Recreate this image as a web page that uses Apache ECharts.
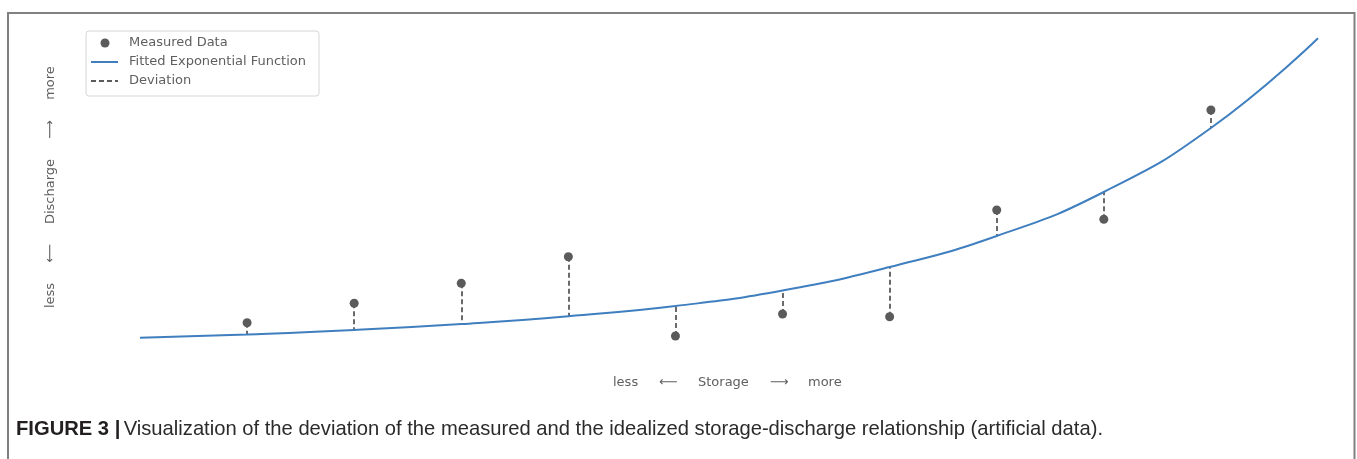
<!DOCTYPE html>
<html>
<head>
<meta charset="utf-8">
<title>Storage-discharge deviation</title>
<script src="https://cdn.jsdelivr.net/npm/echarts@6/dist/echarts.min.js"></script>
<style>
  html, body { margin: 0; padding: 0; background: #ffffff; }
  #chart { width: 1357px; height: 459px; }
</style>
</head>
<body>
<div id="chart"></div>
<script>
// Storage positions (arbitrary units) at which the fitted curve is sampled
const curveStorage = [0, 1, 2, 3, 4, 5, 6, 7, 8, 9, 10, 11];
// Fitted exponential storage-discharge relation (arbitrary discharge units)
const fittedDischarge = [12.3, 15.6, 20.0, 26.0, 33.8, 44.0, 59.5, 83.0, 114.0, 158.0, 222.0, 311.7];
// Storage positions of the measurements
const measuredStorage = [1, 2, 3, 4, 5, 6, 7, 8, 9, 10];
// Measured discharge values
const measuredDischarge = [27.3, 46.7, 66.7, 93.3, 14.0, 36.0, 33.3, 140.0, 130.7, 240.0];

// Legend entries
const legendLabels = ['Measured Data', 'Fitted Exponential Function', 'Deviation'];
// Axis label pieces (low end, arrow, quantity, arrow, high end)
const xLabelParts = ['less', '\u27F5', 'Storage', '\u27F6', 'more'];
const yLabelParts = ['less', '\u27F5', 'Discharge', '\u27F6', 'more'];
const captionLead = 'FIGURE 3 |';
const captionText = 'Visualization of the deviation of the measured and the idealized storage-discharge relationship (artificial data).';

const POINT_COLOR = '#5b5b5b';
const CURVE_COLOR = '#3f7fbf';
const DEV_COLOR = '#5b5b5b';
const LABEL_COLOR = '#5f5f5f';
const FONT = '"DejaVu Sans", sans-serif';
const CAPTION_FONT = '"Liberation Sans", Arial, sans-serif';

const curveData = curveStorage.map((s, i) => [s, fittedDischarge[i]]);
const pointData = measuredStorage.map((s, i) => [s, measuredDischarge[i]]);
const deviationData = measuredStorage.map((s, i) => ({
  coords: [[s, measuredDischarge[i]], [s, fittedDischarge[curveStorage.indexOf(s)]]]
}));

// Axis label pieces are laid out as individual text runs
const xLabelX = [613, 659, 698, 770, 808];
const yLabelY = [295.5, 253.5, 191.5, 129.5, 83];

const graphics = [];
// Figure frame
graphics.push({
  type: 'rect', silent: true, z: 1,
  shape: { x: 8, y: 13, width: 1346.5, height: 480 },
  style: { fill: null, stroke: '#808080', lineWidth: 2 }
});
xLabelParts.forEach((t, i) => {
  graphics.push({
    type: 'text', x: xLabelX[i], y: 383,
    style: { text: t, font: '13px ' + FONT, fill: LABEL_COLOR, align: 'left', verticalAlign: 'middle' }
  });
});
yLabelParts.forEach((t, i) => {
  graphics.push({
    type: 'text', x: 51, y: yLabelY[i], rotation: Math.PI / 2,
    style: { text: t, font: '13px ' + FONT, fill: LABEL_COLOR, align: 'center', verticalAlign: 'middle' }
  });
});
// Legend box
graphics.push({
  type: 'rect', z: 10,
  shape: { x: 86, y: 31, width: 233, height: 65, r: 3 },
  style: { fill: 'rgba(255,255,255,0.9)', stroke: '#d6d6d6', lineWidth: 1 }
});
graphics.push({
  type: 'circle', z: 11,
  shape: { cx: 105, cy: 43, r: 4.5 },
  style: { fill: POINT_COLOR }
});
graphics.push({
  type: 'line', z: 11,
  shape: { x1: 91, y1: 62, x2: 118, y2: 62 },
  style: { stroke: CURVE_COLOR, lineWidth: 2 }
});
graphics.push({
  type: 'line', z: 11,
  shape: { x1: 91, y1: 81, x2: 118, y2: 81 },
  style: { stroke: DEV_COLOR, lineWidth: 2, lineDash: [5, 3] }
});
legendLabels.forEach((t, i) => {
  graphics.push({
    type: 'text', z: 11, x: 129, y: 43 + i * 19,
    style: { text: t, font: '13px ' + FONT, fill: LABEL_COLOR, align: 'left', verticalAlign: 'middle' }
  });
});
// Caption
graphics.push({
  type: 'text', x: 16, y: 429,
  style: {
    text: '{b|' + captionLead + '} {n|' + captionText + '}',
    verticalAlign: 'middle', align: 'left',
    rich: {
      b: { font: 'bold 20.2px ' + CAPTION_FONT, fill: '#231f20' },
      n: { font: '20.2px ' + CAPTION_FONT, fill: '#2b2b2b' }
    }
  }
});

const chart = echarts.init(document.getElementById('chart'), null, { renderer: 'canvas' });
chart.setOption({
  animation: false,
  backgroundColor: '#ffffff',
  grid: { left: 140, right: 39, top: 30, bottom: 109 },
  xAxis: { type: 'value', min: 0, max: 11, show: false },
  yAxis: { type: 'value', min: 0, max: 320, show: false },
  series: [
    {
      name: 'Deviation', type: 'lines', coordinateSystem: 'cartesian2d', z: 2,
      data: deviationData,
      lineStyle: { color: DEV_COLOR, width: 1.8, type: [5, 3], opacity: 1 },
      silent: true
    },
    {
      name: 'Fitted Exponential Function', type: 'line', z: 3,
      data: curveData, smooth: 0.5, showSymbol: false,
      lineStyle: { color: CURVE_COLOR, width: 2 }, silent: true
    },
    {
      name: 'Measured Data', type: 'scatter', z: 4,
      data: pointData, symbol: 'circle', symbolSize: 9,
      itemStyle: { color: POINT_COLOR, opacity: 1 }, silent: true
    }
  ],
  graphic: graphics
});
</script>
</body>
</html>
